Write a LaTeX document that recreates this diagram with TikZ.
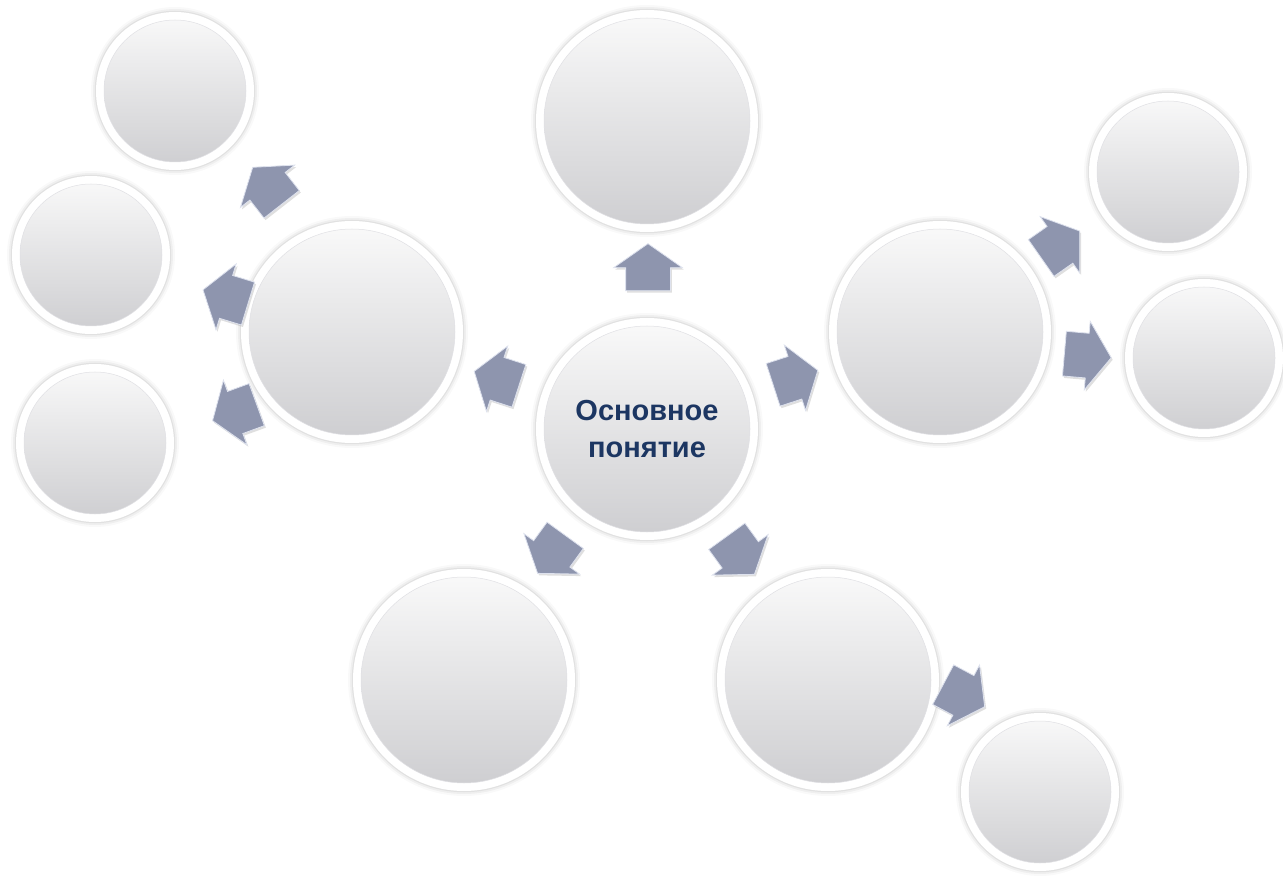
\documentclass[tikz,border=0pt]{standalone}
\usepackage{fontspec}
\newfontfamily\labelfont{Liberation Sans}
\usetikzlibrary{shapes.arrows,shadows,calc}
\definecolor{bubtop}{RGB}{250,250,250}
\definecolor{bubbot}{RGB}{205,205,208}
\definecolor{rimline}{RGB}{224,224,228}
\definecolor{arrowfill}{RGB}{142,149,174}
\definecolor{arrowedge}{RGB}{222,226,238}
\definecolor{textblue}{RGB}{28,54,98}
\tikzset{
  bubble/.style={circle, inner sep=0pt, minimum size=2*#1, fill=white,
    preaction={draw=black, draw opacity=0.025, line width=10pt},
    preaction={draw=black, draw opacity=0.04, line width=6pt},
    preaction={draw=black, draw opacity=0.06, line width=2.5pt},
    path picture={
      \shade[top color=bubtop, bottom color=bubbot]
        (path picture bounding box.center) circle[radius=#1-8pt];
      \draw[rimline, line width=0.5pt]
        (path picture bounding box.center) circle[radius=#1-8pt];
    }},
  bigbub/.style={bubble=111pt},
  smallbub/.style={bubble=79pt},
  blockarrow/.style={single arrow, minimum height=47pt, minimum width=68pt,
    single arrow head extend=12pt, single arrow tip angle=110,
    inner xsep=0pt, inner ysep=22pt, outer sep=0pt,
    fill=arrowfill, draw=arrowedge, line width=0.8pt,
    drop shadow={opacity=0.25, shadow xshift=1.5pt, shadow yshift=-2pt}},
  maintext/.style={font=\labelfont\bfseries\fontsize{29pt}{37pt}\selectfont,
    text=textblue, align=center}
}
\begin{document}
\begin{tikzpicture}[x=1pt,y=1pt]
\useasboundingbox (0,0) rectangle (1283,-882);
% main circles
\node[bigbub, maintext] (C) at (647,-429) {Основное\\понятие};
\node[bigbub] (T) at (647,-121) {};
\node[bigbub] (L) at (352,-332) {};
\node[bigbub] (R) at (940,-332) {};
\node[bigbub] (BL) at (464,-680) {};
\node[bigbub] (BR) at (828,-680) {};
% small circles
\node[smallbub] (LT) at (175,-91) {};
\node[smallbub] (LM) at (91,-255) {};
\node[smallbub] (LB) at (95,-443) {};
\node[smallbub] (RT) at (1168,-172) {};
\node[smallbub] (RB) at (1204,-358) {};
\node[smallbub] (BRS) at (1040,-792) {};
% arrows from the centre
\node[blockarrow, rotate=90] (aT) at (648,-275) {};
\node[blockarrow, rotate=162] (aL) at (504,-381) {};
\node[blockarrow, rotate=18] (aR) at (788,-380) {};
\node[blockarrow, rotate=-126] (aBL) at (556,-548) {};
\node[blockarrow, rotate=-54] (aBR) at (736,-549) {};
% arrows from left circle
\node[blockarrow, rotate=128] (aLT) at (272,-192) {};
\node[blockarrow, rotate=163] (aLM) at (233,-299) {};
\node[blockarrow, rotate=200] (aLB) at (242,-410) {};
% arrows from right circle
\node[blockarrow, rotate=35] (aRT) at (1054,-249) {};
\node[blockarrow, rotate=-5] (aRB) at (1080,-355) {};
% arrow from bottom right circle
\node[blockarrow, rotate=-28] (aBRS) at (957,-692) {};
\end{tikzpicture}
\end{document}
